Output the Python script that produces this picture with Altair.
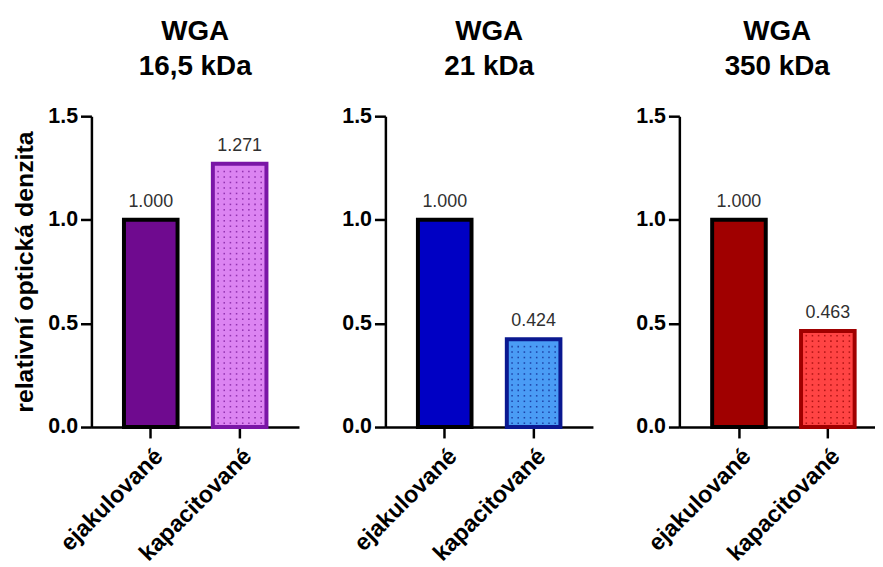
import altair as alt
import pandas as pd

categories = ["ejakulované", "kapacitované"]
panel_titles = [["WGA", "16,5 kDa"], ["WGA", "21 kDa"], ["WGA", "350 kDa"]]
values_16 = [1.000, 1.271]
values_21 = [1.000, 0.424]
values_350 = [1.000, 0.463]
y_ticks = [0.0, 0.5, 1.0, 1.5]

fills = [["#6f0a8f", "#dc84f2"], ["#0000c4", "#4a9cf5"], ["#a00000", "#ff4444"]]
strokes = [["#000000", "#7a16a6"], ["#000000", "#0a1890"], ["#000000", "#a00000"]]
dot_colors = ["#8a2aa8", "#1a3aa0", "#a81010"]

FONT = "Liberation Sans"
H = 313
DOT_STEP = 0.0264          # vertical spacing of texture dots, in axis units
DOT_COLS = [-21.7, -15.5, -9.3, -3.1, 3.1, 9.3, 15.5, 21.7]
# width, paddingOuter, align for each panel
PANEL_GEOM = [(209, 0.366, 0.5), (209, 0.366, 0.5), (197, 0.299, 0.617)]


def panel(idx, vals, show_title):
    width, pad_outer, align = PANEL_GEOM[idx]
    df = pd.DataFrame({"category": categories, "value": vals})
    # texture dots inside the patterned (second) bar
    top = vals[1]
    ys = []
    y = DOT_STEP * 0.7
    while y < top - DOT_STEP * 0.6:
        ys.append(y)
        y += DOT_STEP
    dots = pd.DataFrame({"category": [categories[1]] * len(ys), "value": ys})

    xenc = alt.X("category:N", sort=categories,
                 scale=alt.Scale(domain=categories, paddingInner=0.397,
                                 paddingOuter=pad_outer, align=align),
                 axis=alt.Axis(title=None, labelAngle=-45, labelFontSize=23.5,
                               labelFontWeight="bold", labelFont=FONT, labelColor="#000",
                               tickSize=11, tickWidth=2.5, tickColor="#000",
                               domainWidth=2.5, domainColor="#000", labelPadding=6))
    yenc = alt.Y("value:Q", scale=alt.Scale(domain=[0, 1.5], nice=False),
                 axis=alt.Axis(title="relativní optická denzita" if show_title else None,
                               values=y_ticks, format=".1f", labelFontSize=21.5,
                               labelFontWeight="bold", labelFont=FONT, labelColor="#000",
                               titleFontSize=25, titleFontWeight="bold", titleFont=FONT,
                               titleColor="#000", titlePadding=10,
                               tickSize=11, tickWidth=2.5, tickColor="#000",
                               domainWidth=2.5, domainColor="#000", grid=False,
                               labelPadding=3))
    base = alt.Chart(df).encode(x=xenc, y=yenc)
    bars = base.mark_bar(strokeWidth=4).encode(
        fill=alt.Fill("category:N", scale=alt.Scale(domain=categories, range=fills[idx]), legend=None),
        stroke=alt.Stroke("category:N", scale=alt.Scale(domain=categories, range=strokes[idx]), legend=None),
    )
    layers = [bars]
    for off in DOT_COLS:
        layers.append(
            alt.Chart(dots).mark_square(size=2.4, xOffset=off, color=dot_colors[idx], opacity=0.9)
            .encode(x=alt.X("category:N", sort=categories), y=alt.Y("value:Q"))
        )
    text = base.mark_text(dy=-13, baseline="alphabetic", fontSize=18, font=FONT,
                          color="#303030").encode(text=alt.Text("value:Q", format=".3f"))
    layers.append(text)
    return alt.layer(*layers).properties(
        width=width, height=H,
        title=alt.TitleParams(panel_titles[idx], fontSize=28, font=FONT, fontWeight="bold",
                              color="#000", lineHeight=36, offset=24, anchor="middle"),
    )


chart = alt.hconcat(
    panel(0, values_16, True),
    panel(1, values_21, False),
    panel(2, values_350, False),
    spacing=43,
).resolve_scale(fill="independent", stroke="independent").configure_view(
    stroke=None
).properties(padding={"left": 5, "top": 8, "right": 0, "bottom": 0})

chart.save("out.html", embed_options={"renderer": "svg", "actions": False})
